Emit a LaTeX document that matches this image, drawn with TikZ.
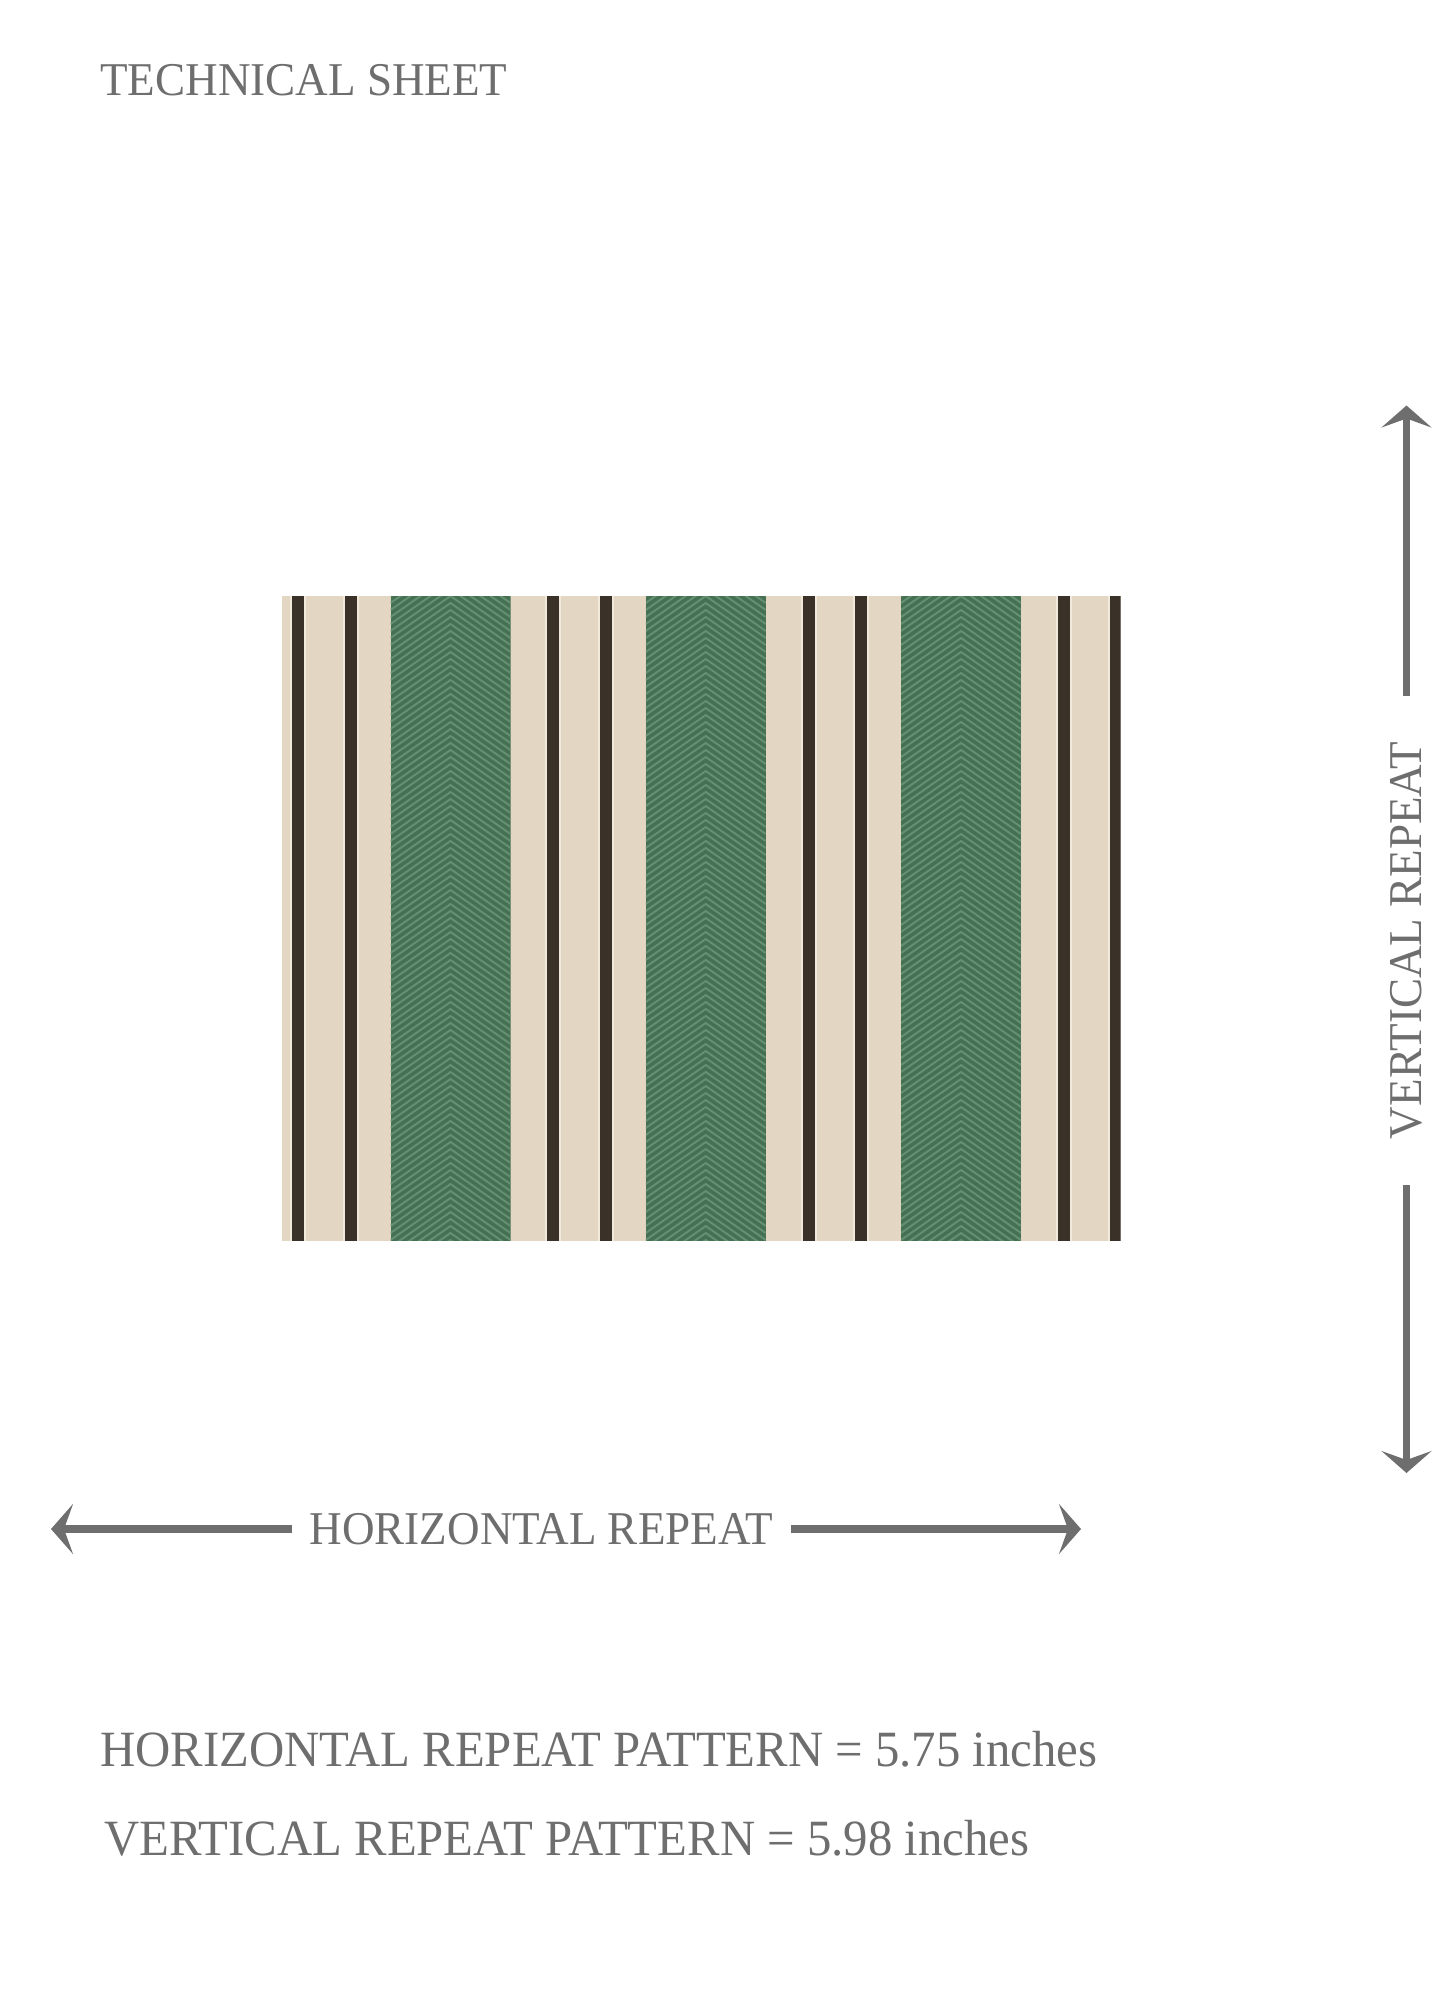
\documentclass[tikz,border=0pt]{standalone}
\usepackage{fontspec}
\setmainfont{Liberation Serif}[FakeStretch=0.96]
\usetikzlibrary{arrows.meta}
\definecolor{inkgray}{RGB}{110,110,110}
\definecolor{beige}{RGB}{227,214,194}
\definecolor{stripedark}{RGB}{58,49,40}
\definecolor{edgecream}{RGB}{241,234,220}
\definecolor{greenbase}{RGB}{70,112,84}
\definecolor{greenline}{RGB}{100,144,112}
\begin{document}
\begin{tikzpicture}[x=1pt,y=-1pt,
  lbl/.style={text=inkgray, inner sep=0pt},
  arr/.style={draw=inkgray, line width=7.5pt, -{Stealth[length=22pt,width=50pt,inset=9pt]}},
  darkstripe/.style={fill=stripedark},
  chev/.style={draw=greenline, line width=2pt},
]
\fill[white] (0,0) rectangle (1455,2000);
\useasboundingbox (0,0) rectangle (1455,2000);

% fabric swatch
\begin{scope}
\clip (281.5,596) rectangle (1120.5,1240.5);
\fill[beige] (281.5,596) rectangle (1120.5,1240.5);
\foreach \s in {292,344.5,547.25,599.75,802.5,855,1057.75,1110.25} {
  \fill[edgecream] (\s-2,596) rectangle (\s+14,1240.5);
  \fill[darkstripe] (\s,596) rectangle (\s+12,1240.5);
}
\foreach \g in {390.5,645.75,901} {
  \begin{scope}
  \clip (\g,596) rectangle (\g+120,1240.5);
  \fill[greenbase] (\g,596) rectangle (\g+120,1240.5);
  \foreach \k in {0,...,100} {
    \draw[chev] (\g,596+7*\k) -- (\g+60,596+7*\k-42) -- (\g+120,596+7*\k);
  }
  \end{scope}
}
\end{scope}

% title
\node[lbl, anchor=base west, font=\fontsize{47pt}{50pt}\selectfont] (title) at (100,95) {TECHNICAL SHEET};

% horizontal repeat arrow
\node[lbl, inner xsep=17.5pt, font=\fontsize{47pt}{49pt}\selectfont] (hlab) at (541.5,1529) {HORIZONTAL REPEAT};
\coordinate (hleft) at (51,1529);
\coordinate (hright) at (1081,1529);
\draw[arr] (hlab.west) -- (hleft);
\draw[arr] (hlab.east) -- (hright);

% vertical repeat arrow
\node[lbl, rotate=90, inner xsep=45.5pt, font=\fontsize{47pt}{49pt}\selectfont] (vlab) at (1406.5,940.5) {VERTICAL REPEAT};
\coordinate (vtop) at (1406.5,405.5);
\coordinate (vbot) at (1406.5,1473);
\draw[arr] (vlab.east) -- (vtop);
\draw[arr] (vlab.west) -- (vbot);

% bottom texts
\node[lbl, anchor=base west, font=\fontsize{50.8pt}{53pt}\selectfont] (hrp) at (100,1766.5) {HORIZONTAL REPEAT PATTERN = 5.75 inches};
\node[lbl, anchor=base west, font=\fontsize{50.8pt}{53pt}\selectfont] (vrp) at (104,1855) {VERTICAL REPEAT PATTERN = 5.98 inches};
\end{tikzpicture}
\end{document}
